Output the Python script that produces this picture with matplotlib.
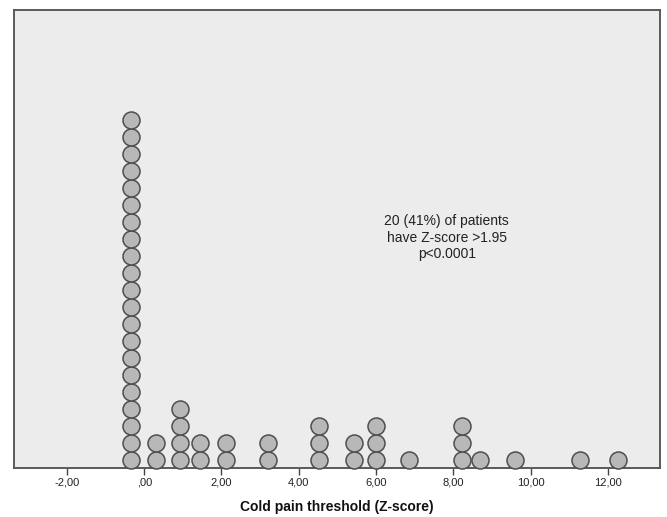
import matplotlib
matplotlib.use("Agg")
import matplotlib.pyplot as plt
import numpy as np

plt.rcParams['font.family'] = ['Liberation Sans', 'DejaVu Sans']

# Distinct Z-score values and number of patients at each value
z_values = [-0.34, 0.31, 0.93, 1.45, 2.12, 3.20, 4.52, 5.43, 6.00, 6.85,
            8.22, 8.69, 9.59, 11.27, 12.25]
counts = [21, 2, 4, 2, 2, 2, 3, 2, 3, 1, 3, 1, 1, 1, 1]

tick_values = [-2, 0, 2, 4, 6, 8, 10, 12]
tick_labels = ["-2,00", ",00", "2,00", "4,00", "6,00", "8,00", "10,00", "12,00"]

annotation = "20 (41%) of patients\nhave Z-score >1.95\np<0.0001"

fig = plt.figure(figsize=(6.67, 5.17), dpi=100)
fig.patch.set_facecolor("white")
ax = fig.add_axes([14 / 667, 49 / 517, 646 / 667, 458 / 517])
ax.set_facecolor("#ececec")

# Stack the dots vertically: one unit per dot
xs, ys = [], []
for z, n in zip(z_values, counts):
    for i in range(n):
        xs.append(z)
        ys.append(i + 0.5)

ax.scatter(xs, ys, s=150, facecolor="#b8b8b8", edgecolor="#4e4e4e",
           linewidth=1.1, zorder=3, clip_on=False)

ax.set_xlim(-3.37, 13.35)
ax.set_ylim(0, 458 / 17)

ax.set_xticks(tick_values)
ax.set_xticklabels(tick_labels, fontsize=8, color="#222222")
ax.set_yticks([])
ax.tick_params(axis="x", direction="out", length=5, width=1, color="#444444", pad=2)

for side in ["left", "right", "top", "bottom"]:
    ax.spines[side].set_color("#5a5a5a")
    ax.spines[side].set_linewidth(1.4)

ax.text(7.83, 0.5 + (460 - 238) / 17, annotation, ha="center", va="center",
        fontsize=10, color="#222222", linespacing=1.2)

ax.set_xlabel("Cold pain threshold (Z-score)", fontsize=10, fontweight="bold",
              labelpad=9, color="#111111")

fig.savefig("out.png", dpi=100)
